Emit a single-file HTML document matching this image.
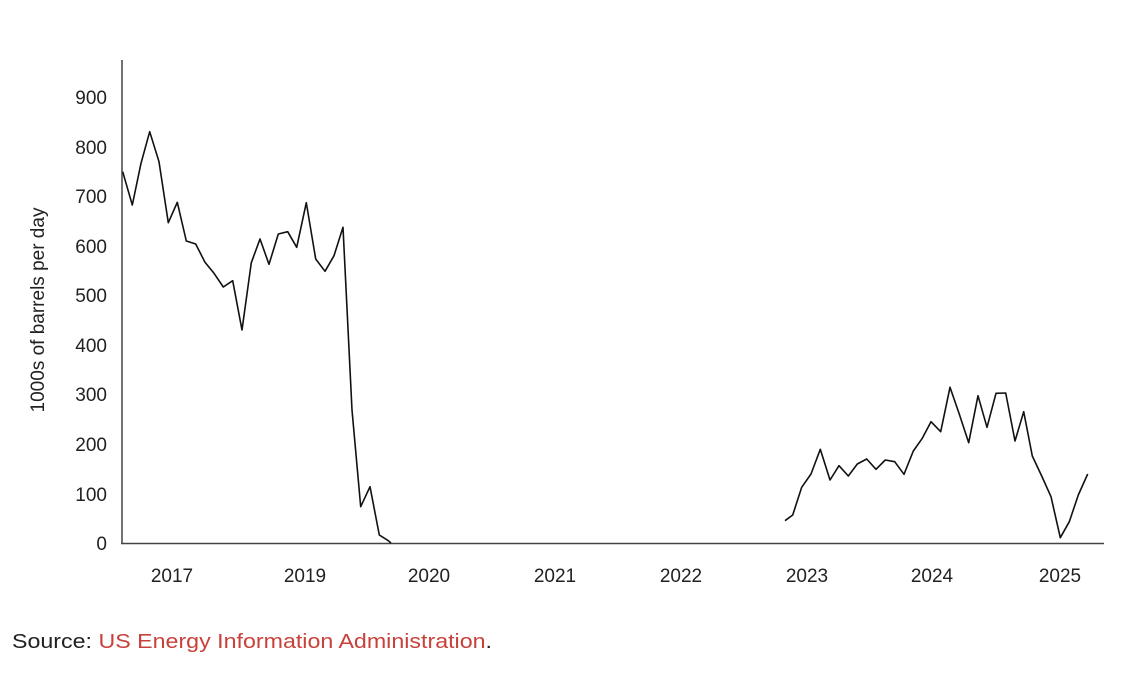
<!DOCTYPE html>
<html><head><style>body{margin:0;background:#fff}</style></head><body>
<svg width="1140" height="695" xmlns="http://www.w3.org/2000/svg" font-family="Liberation Sans, sans-serif" fill="#222">
<rect width="1140" height="695" fill="#fff"/>
<line x1="122" y1="60" x2="122" y2="544" stroke="#444" stroke-width="1.5"/>
<line x1="121" y1="543.5" x2="1104" y2="543.5" stroke="#444" stroke-width="1.5"/>
<g font-size="19" text-anchor="end">
<text x="107" y="550">0</text>
<text x="107" y="501">100</text>
<text x="107" y="451">200</text>
<text x="107" y="401">300</text>
<text x="107" y="352">400</text>
<text x="107" y="302">500</text>
<text x="107" y="253">600</text>
<text x="107" y="203">700</text>
<text x="107" y="154">800</text>
<text x="107" y="104">900</text>
</g>
<text transform="translate(44,310) rotate(-90)" font-size="19" text-anchor="middle">1000s of barrels per day</text>
<g font-size="19" text-anchor="middle">
<text x="172" y="582">2017</text>
<text x="305" y="582">2019</text>
<text x="429" y="582">2020</text>
<text x="555" y="582">2021</text>
<text x="681" y="582">2022</text>
<text x="807" y="582">2023</text>
<text x="932" y="582">2024</text>
<text x="1060" y="582">2025</text>
</g>
<polyline fill="none" stroke="#111" stroke-width="1.6" stroke-linejoin="round" points="122.7,171.7 132.3,205 141,163.3 149.7,131.7 159,161.7 168.3,222.7 177.3,202.3 186.3,241 195.7,244 205,262.3 214,273.3 223.3,287 232.7,280.7 242,330 251.3,262.7 260,239 269,264.3 278.3,234 287.7,231.7 296.7,247.3 306.3,202.7 315.7,259 325,271.3 334,255.7 343,227.3 352,410 360.7,506.7 370,486.7 379.3,535 388.3,540.7 391,543"/>
<polyline fill="none" stroke="#111" stroke-width="1.6" stroke-linejoin="round" points="785,520.7 792.7,515 801.7,487.3 811,474 820.3,449.3 830,480 839,465.7 848.3,476 857.3,464 866.7,459 876,469.3 885.3,460 894.7,461.7 904,474.3 913.3,451 922.3,438.3 931,421.7 940.7,431.7 950,387.3 959,413.3 968.7,442.7 978,395.7 987,427.3 996,393.3 1005.7,393 1015,441 1023.7,411.7 1032.3,456 1041.7,476 1051,496.7 1060.3,537.7 1069.3,521.7 1078.3,495 1087.7,474"/>
<text x="12" y="648" font-size="20" textLength="480" lengthAdjust="spacingAndGlyphs">Source: <tspan fill="#c8413b">US Energy Information Administration</tspan>.</text>
</svg>
</body></html>
